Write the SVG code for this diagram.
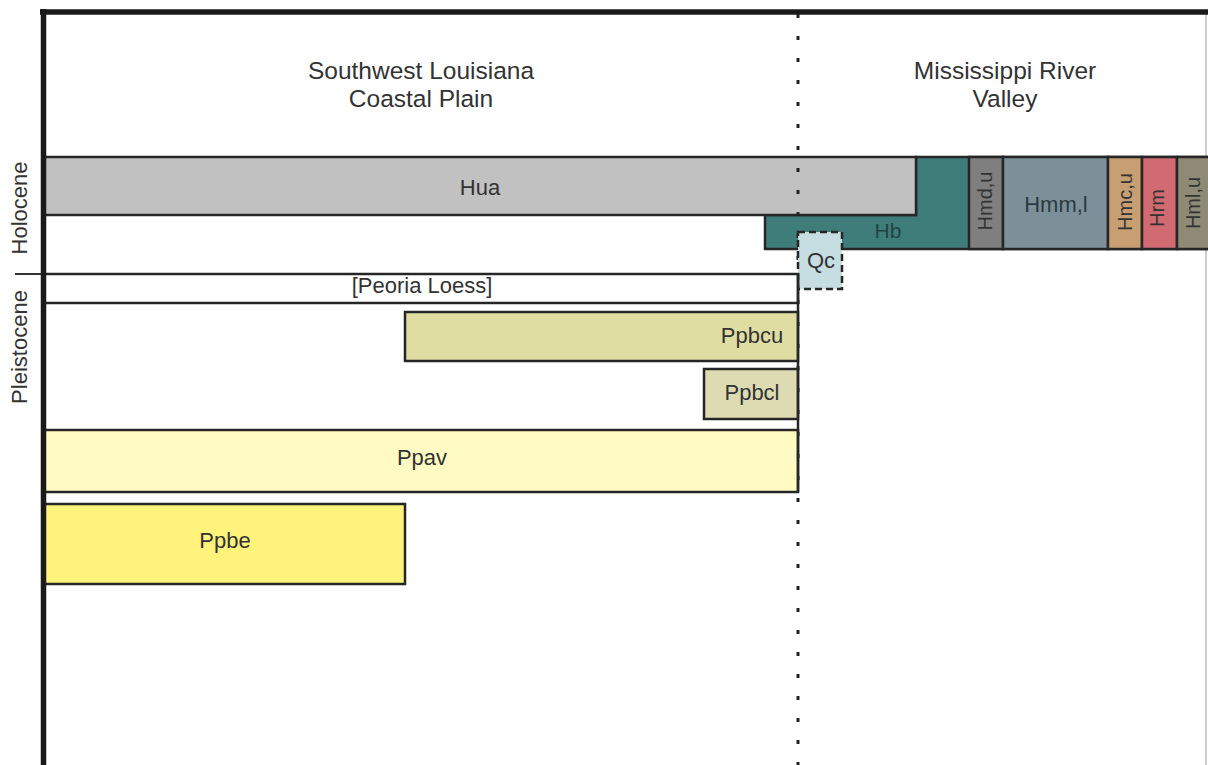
<svg xmlns="http://www.w3.org/2000/svg" width="1208" height="765" viewBox="0 0 1208 765">
<style>
text{font-family:"Liberation Sans",Arial,sans-serif;fill:#333;text-anchor:middle}
.hd{font-size:24.5px}
.lb{font-size:22px}
.vl{font-size:20px}
.bx{stroke:#262626;stroke-width:2.5}
</style>
<rect width="1208" height="765" fill="#fff"/>
<g id="frame">
<line x1="1206" y1="12" x2="1206" y2="765" stroke="#999" stroke-width="1"/>
</g>
<g id="Hb"><polygon points="916,157 1208,157 1208,249 765,249 765,215 916,215" fill="#3f7d7b" class="bx"/><text x="888" y="238" class="vl" style="fill:#1f4644;font-size:21px">Hb</text></g>
<g id="Hua"><rect x="43" y="157" width="873" height="58" fill="#c1c1c1" class="bx"/><text x="480" y="195" class="lb">Hua</text></g>
<g id="Hmdu"><rect x="969" y="157" width="34" height="92" fill="#7f7f7f" class="bx"/><text transform="translate(992,201) rotate(-90)" class="vl">Hmd,u</text></g>
<g id="Hmml"><rect x="1003" y="157" width="105" height="92" fill="#7d9099" class="bx"/><text x="1056" y="212" class="lb" style="fill:#2b3a42">Hmm,l</text></g>
<g id="Hmcu"><rect x="1108" y="157" width="34" height="92" fill="#c89f72" class="bx"/><text transform="translate(1132,202) rotate(-90)" class="vl">Hmc,u</text></g>
<g id="Hrm"><rect x="1142" y="157" width="35" height="92" fill="#d26a72" class="bx"/><text transform="translate(1164,208) rotate(-90)" class="vl">Hrm</text></g>
<g id="Hmlu"><rect x="1177" y="157" width="33" height="92" fill="#8f8a76" class="bx"/><text transform="translate(1200,203) rotate(-90)" class="vl">Hml,u</text></g>
<g id="divider">
<line x1="798" y1="14" x2="798" y2="765" stroke="#222" stroke-width="3" stroke-dasharray="4 18"/>
</g>
<g id="Qc"><rect x="798" y="232" width="44" height="57" fill="#c6dde1" stroke="#262626" stroke-width="2.5" stroke-dasharray="7 4"/><text x="821" y="268" class="lb">Qc</text></g>
<g id="Peoria"><rect x="43" y="274" width="755" height="29" fill="#fff" class="bx"/><text x="422" y="293" class="lb">[Peoria Loess]</text></g>
<g id="Ppbcu"><rect x="405" y="312" width="393" height="49" fill="#dfdda2" class="bx"/><text x="752" y="343" class="lb">Ppbcu</text></g>
<g id="Ppbcl"><rect x="704" y="369" width="94" height="50" fill="#dddbb2" class="bx"/><text x="752" y="400" class="lb">Ppbcl</text></g>
<g id="Ppav"><rect x="43" y="430" width="755" height="62" fill="#fffbc2" class="bx"/><text x="422" y="465" class="lb">Ppav</text></g>
<g id="Ppbe"><rect x="43" y="504" width="362" height="80" fill="#fff37c" class="bx"/><text x="225" y="548" class="lb">Ppbe</text></g>
<g id="axes">
<line x1="798" y1="274" x2="798" y2="492" stroke="#262626" stroke-width="2.5"/>
<line x1="15" y1="274" x2="43" y2="274" stroke="#333" stroke-width="2"/>
<line x1="40" y1="12" x2="1208" y2="12" stroke="#1a1a1a" stroke-width="5.5"/>
<line x1="43.5" y1="9" x2="43.5" y2="765" stroke="#1a1a1a" stroke-width="5.5"/>
</g>
<g id="headers">
<text x="421" y="79" class="hd">Southwest Louisiana</text>
<text x="421" y="107" class="hd">Coastal Plain</text>
<text x="1005" y="79" class="hd">Mississippi River</text>
<text x="1005" y="107" class="hd">Valley</text>
<text transform="translate(27,208) rotate(-90)" class="lb">Holocene</text>
<text transform="translate(27,347) rotate(-90)" class="lb">Pleistocene</text>
</g>
</svg>
